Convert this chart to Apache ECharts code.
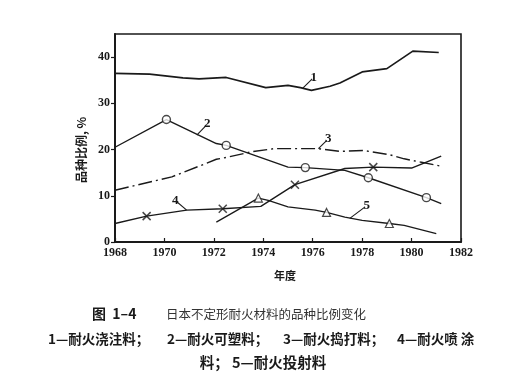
<!DOCTYPE html>
<html>
<head>
<meta charset="utf-8">
<script src="https://cdn.jsdelivr.net/npm/echarts@6/dist/echarts.min.js"></script>
<style>
html,body{margin:0;padding:0;background:#fff;}
#c{width:525px;height:386px;}
</style>
</head>
<body>
<div id="c"></div>
<script>
// ---- data (year, percent) ----
var xTicks = [1968, 1970, 1972, 1974, 1976, 1978, 1980, 1982];
var yTicks = [0, 10, 20, 30, 40];

var s1 = [[1968,36.5],[1969.4,36.3],[1970.75,35.5],[1971.4,35.3],[1972.5,35.6],[1974.1,33.4],[1975.0,33.9],[1975.5,33.4],[1975.95,32.8],[1976.7,33.7],[1977.1,34.4],[1978.0,36.8],[1979.0,37.5],[1980.05,41.3],[1981.1,41.0]];
var s2 = [[1968,20.5],[1970.08,26.5],[1972.1,21.3],[1972.5,20.9],[1975.0,16.2],[1975.7,16.1],[1977.3,15.5],[1978.25,13.9],[1980.6,9.6],[1981.2,8.3]];
var s3 = [[1968,11.2],[1970.3,14.1],[1971.4,16.4],[1972.1,17.9],[1972.6,18.4],[1973.5,19.5],[1974.45,20.2],[1976.2,20.2],[1977.1,19.6],[1978.05,19.8],[1979.1,18.9],[1979.7,18.0],[1980.35,17.3],[1981.2,16.4]];
var s4 = [[1968,4.0],[1969.28,5.6],[1970.9,6.9],[1972.36,7.2],[1973.9,7.7],[1975.28,12.4],[1977.3,15.9],[1978.45,16.2],[1980.0,16.0],[1981.2,18.6]];
var s5 = [[1972.1,4.3],[1973.8,9.5],[1974.2,9.0],[1975.0,7.6],[1976.1,6.9],[1976.56,6.4],[1977.3,5.4],[1978.0,4.7],[1979.1,4.0],[1979.7,3.6],[1981.0,1.8]];

var marks2 = [[1970.08,26.5],[1972.5,20.9],[1975.7,16.1],[1978.25,13.9],[1980.6,9.6]];
var marks4 = [[1969.28,5.6],[1972.36,7.2],[1975.28,12.4],[1978.45,16.2]];
var marks5 = [[1973.8,9.5],[1976.56,6.4],[1979.1,4.0]];

// curve number labels: leader start, leader end (data units)
var seriesNames = ['1', '2', '3', '4', '5'];
var leaders = [
  [[1975.58,33.2],[1975.98,35.3]],
  [[1971.31,23.1],[1971.68,25.2]],
  [[1976.23,20.2],[1976.57,22.0]],
  [[1970.9,6.9],[1970.5,8.7]],
  [[1977.5,5.1],[1978.12,7.6]]
];

var yName = '品种比例, %';
var xName = '年度';
var captionHead = '图  1–4';
var captionBody = '日本不定形耐火材料的品种比例变化';
var legendGroups = ['1—耐火浇注料；', '2—耐火可塑料；', '3—耐火捣打料；', '4—耐火喷 涂'];
var legendLine2 = '料； 5—耐火投射料';

var INK = '#1a1a1a';
var cjkFont = '"Noto Sans CJK SC", sans-serif';

function leaderLine(i) {
  return {
    symbol: 'none',
    silent: true,
    lineStyle: { color: INK, width: 1.1, type: 'solid' },
    label: { show: true, position: 'end', distance: 2, formatter: seriesNames[i],
      color: INK, fontFamily: '"Liberation Serif", serif', fontWeight: 'bold', fontSize: 13 },
    emphasis: { disabled: true },
    data: [[{ coord: leaders[i][0] }, { coord: leaders[i][1] }]]
  };
}

function lineSeries(data, i, lineType, width) {
  return {
    type: 'line', data: data, showSymbol: false, symbol: 'none', silent: true,
    lineStyle: { color: INK, width: width || 1.4, type: lineType || 'solid' },
    z: 2,
    markLine: leaderLine(i)
  };
}

var legendX = [48, 167, 283, 397];
var legendGraphics = legendGroups.map(function (t, i) {
  return { type: 'text', x: legendX[i], y: 339,
    style: { text: t, fill: INK, font: 'bold 13.5px ' + cjkFont, textAlign: 'left', textVerticalAlign: 'middle' } };
});

var chart = echarts.init(document.getElementById('c'), null, { renderer: 'canvas' });
chart.setOption({
  animation: false,
  backgroundColor: '#fff',
  grid: { left: 115, right: 64, top: 34, bottom: 144, show: true, borderColor: INK, borderWidth: 1.6, backgroundColor: 'transparent' },
  xAxis: {
    type: 'value', min: 1968, max: 1982, interval: 2,
    axisLine: { show: true, lineStyle: { color: INK, width: 2 } },
    axisTick: { show: true, inside: true, length: 4, lineStyle: { color: INK, width: 1.2 }, customValues: xTicks },
    axisLabel: { color: INK, fontFamily: '"Liberation Serif", serif', fontWeight: 'bold', fontSize: 12, margin: 5,
      customValues: xTicks, formatter: function (v) { return String(v); } },
    splitLine: { show: false }
  },
  yAxis: {
    type: 'value', min: 0, max: 45, interval: 10,
    axisLine: { show: true, lineStyle: { color: INK, width: 2 } },
    axisTick: { show: true, inside: false, length: 4, lineStyle: { color: INK, width: 1.2 }, customValues: yTicks },
    axisLabel: { color: INK, fontFamily: '"Liberation Serif", serif', fontWeight: 'bold', fontSize: 12, margin: 5,
      customValues: yTicks, formatter: function (v) { return String(v); } },
    splitLine: { show: false }
  },
  series: [
    lineSeries(s1, 0, 'solid', 1.7),
    lineSeries(s2, 1, 'solid', 1.4),
    lineSeries(s3, 2, [14, 4, 2, 4], 1.4),
    lineSeries(s4, 3, 'solid', 1.4),
    lineSeries(s5, 4, 'solid', 1.3),
    { type: 'scatter', data: marks2, symbol: 'circle', symbolSize: 8, silent: true, z: 5,
      itemStyle: { color: '#fff', borderColor: INK, borderWidth: 1.4 } },
    { type: 'scatter', data: marks4, symbol: 'path://M0,0L10,10M10,0L0,10', symbolSize: 8, silent: true, z: 5,
      itemStyle: { color: 'none', borderColor: INK, borderWidth: 1.5 } },
    { type: 'scatter', data: marks5, symbol: 'triangle', symbolSize: 8, silent: true, z: 5,
      itemStyle: { color: '#fff', borderColor: INK, borderWidth: 1.2 } }
  ],
  graphic: [
    { type: 'text', x: 81, y: 150, rotation: Math.PI / 2,
      style: { text: yName, fill: INK, font: 'bold 12px ' + cjkFont, textAlign: 'center', textVerticalAlign: 'middle' } },
    { type: 'text', x: 285, y: 276,
      style: { text: xName, fill: INK, font: 'bold 11px ' + cjkFont, textAlign: 'center', textVerticalAlign: 'middle' } },
    { type: 'text', x: 92, y: 314,
      style: { text: captionHead, fill: INK, font: 'bold 14px ' + cjkFont, textAlign: 'left', textVerticalAlign: 'middle' } },
    { type: 'text', x: 166, y: 314,
      style: { text: captionBody, fill: '#333', font: '12.5px ' + cjkFont, textAlign: 'left', textVerticalAlign: 'middle' } },
    { type: 'text', x: 263, y: 362,
      style: { text: legendLine2, fill: INK, font: 'bold 14.5px ' + cjkFont, textAlign: 'center', textVerticalAlign: 'middle' } }
  ].concat(legendGraphics)
});
</script>
</body>
</html>
